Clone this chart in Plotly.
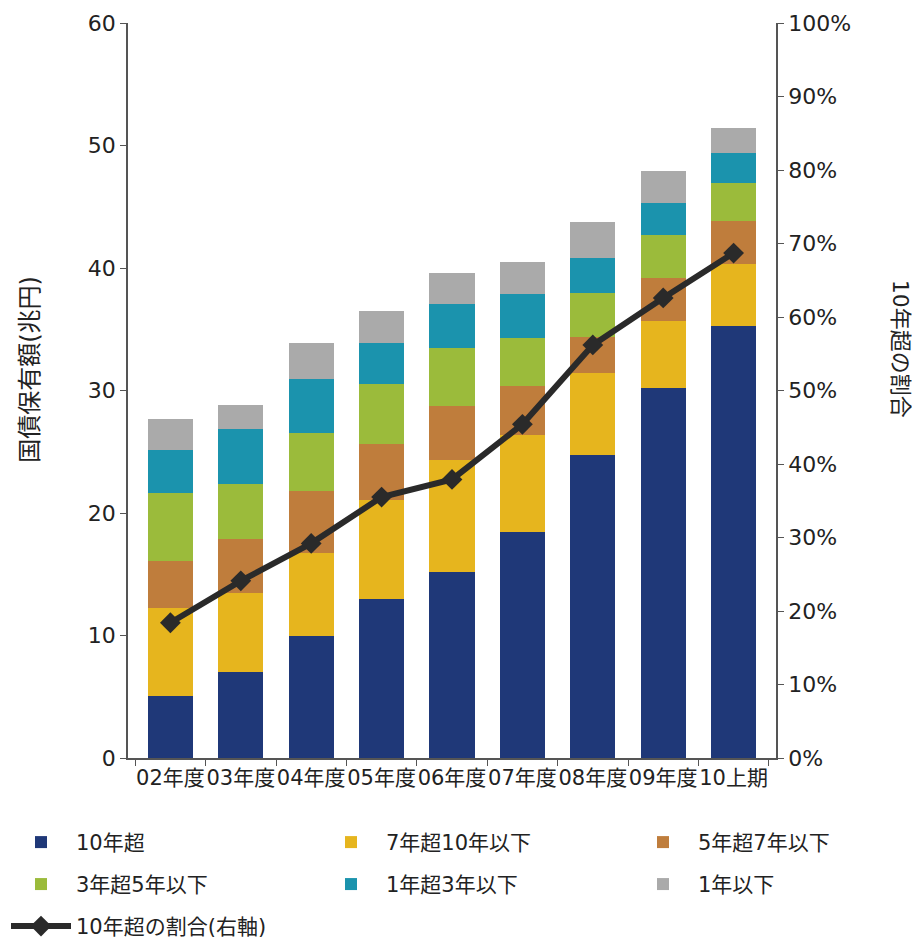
import plotly.graph_objects as go

categories = ["02年度", "03年度", "04年度", "05年度", "06年度", "07年度", "08年度", "09年度", "10上期"]

over10 = [5.1, 7.0, 10.0, 13.0, 15.2, 18.45, 24.7, 30.2, 35.3]
y7to10 = [7.15, 6.5, 6.75, 8.1, 9.1, 7.95, 6.75, 5.5, 5.0]
y5to7 = [3.85, 4.4, 5.05, 4.5, 4.4, 3.95, 2.9, 3.5, 3.5]
y3to5 = [5.5, 4.5, 4.7, 4.9, 4.8, 3.95, 3.6, 3.5, 3.1]
y1to3 = [3.55, 4.45, 4.4, 3.4, 3.6, 3.6, 2.9, 2.6, 2.5]
under1 = [2.5, 2.0, 3.0, 2.6, 2.5, 2.6, 2.9, 2.6, 2.0]
share_over10 = [18.4, 24.1, 29.2, 35.5, 37.9, 45.4, 56.2, 62.6, 68.7]

series_names = ["10年超", "7年超10年以下", "5年超7年以下", "3年超5年以下", "1年超3年以下", "1年以下"]
series_values = [over10, y7to10, y5to7, y3to5, y1to3, under1]
colors = ["#1f3878", "#e6b51e", "#bf7d3c", "#9bbb3b", "#1b93ad", "#aaaaaa"]
line_name = "10年超の割合(右軸)"
y_title = "国債保有額(兆円)"
y2_title = "10年超の割合"

FONT = "DejaVu Sans, Noto Sans CJK JP, sans-serif"

# page is offset by the body margin (8px); work in figure pixels
W, H = 920, 945
L, T = 120, 15
pw, ph = 648, 735.5
R, B = W - L - pw, H - T - ph
bottom = T + ph


def px_x(x):
    return (x - L) / pw


def px_y(y):
    return (bottom - y) / ph


legend_ids = ["legend", "legend2", "legend3", "legend4", "legend5", "legend6", "legend7"]
leg_px = [(-2, 835), (308, 835), (620, 835), (-2, 877), (308, 877), (620, 877), (-2, 919)]

fig = go.Figure()
for i, (name, vals, col) in enumerate(zip(series_names, series_values, colors)):
    fig.add_trace(go.Bar(x=categories, y=vals, name=name, marker_color=col,
                         marker_line_width=0, legend=legend_ids[i]))
fig.add_trace(go.Scatter(x=categories, y=share_over10, name=line_name, yaxis="y2",
                         mode="lines+markers", legend=legend_ids[6],
                         line=dict(color="#2a2a2a", width=6),
                         marker=dict(symbol="diamond", size=16, color="#2a2a2a")))

legend_cfg = {}
for lid, (lx, ly) in zip(legend_ids, leg_px):
    legend_cfg[lid] = dict(x=px_x(lx), y=px_y(ly), xanchor="left", yanchor="middle",
                           font=dict(size=21), itemwidth=60, bgcolor="rgba(0,0,0,0)")

axis_common = dict(showline=True, linecolor="#555555", linewidth=1.5, ticks="outside",
                   ticklen=6, tickcolor="#555555", showgrid=False, zeroline=False,
                   ticklabeloverflow="allow")

fig.update_layout(
    width=W, height=H, showlegend=True,
    barmode="stack", bargap=0.36,
    paper_bgcolor="white", plot_bgcolor="white",
    margin=dict(l=L, r=R, t=T, b=B, autoexpand=False),
    font=dict(family=FONT, size=20, color="#222222"),
    xaxis=dict(**axis_common, tickson="boundaries", tickangle=0, tickfont=dict(size=21)),
    yaxis=dict(**axis_common, range=[0, 60], dtick=10, tickfont=dict(size=22)),
    yaxis2=dict(**axis_common, range=[0, 100], dtick=10, overlaying="y", side="right",
                ticksuffix="%", tickfont=dict(size=22)),
    annotations=[
        dict(text=y_title, x=px_x(22), y=px_y(362), xref="paper", yref="paper",
             xanchor="center", yanchor="middle", textangle=-90, showarrow=False,
             font=dict(size=24)),
        dict(text=y2_title, x=px_x(892), y=px_y(341), xref="paper", yref="paper",
             xanchor="center", yanchor="middle", textangle=90, showarrow=False,
             font=dict(size=22)),
    ],
    **legend_cfg,
)

fig.write_html("out.html")
